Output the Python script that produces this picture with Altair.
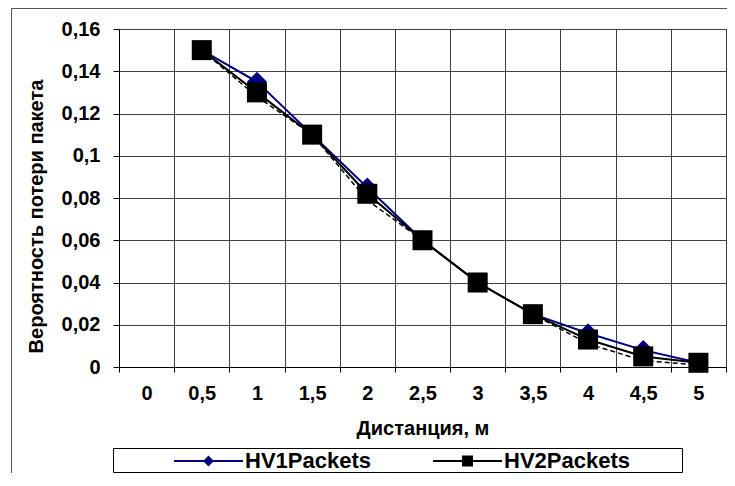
import altair as alt
import pandas as pd

categories = ["0", "0,5", "1", "1,5", "2", "2,5", "3", "3,5", "4", "4,5", "5"]
hv1_values = [None, 0.150, 0.135, 0.110, 0.085, 0.060, 0.040, 0.025, 0.016, 0.008, 0.002]
hv2_values = [None, 0.150, 0.130, 0.110, 0.082, 0.060, 0.040, 0.025, 0.013, 0.005, 0.002]
dashed_values = [None, 0.150, 0.128, 0.110, 0.079, 0.060, 0.040, 0.025, 0.011, 0.003, 0.001]
series_names = ["HV1Packets", "HV2Packets"]
series_colors = ["#000080", "#000000"]
y_ticks = [0, 0.02, 0.04, 0.06, 0.08, 0.1, 0.12, 0.14, 0.16]

rows = []
for name, vals in [("HV1Packets", hv1_values), ("HV2Packets", hv2_values), ("trend", dashed_values)]:
    for c, v in zip(categories, vals):
        if v is not None:
            rows.append({"dist": c, "value": v, "series": name})
df = pd.DataFrame(rows)

FONT = "Liberation Sans"

x_enc = alt.X(
    "dist:N",
    sort=categories,
    scale=alt.Scale(type="band", domain=categories, paddingInner=0, paddingOuter=0),
    axis=alt.Axis(
        title="Дистанция, м", tickBand="extent", grid=True, gridColor="#404040",
        labelAngle=0, labelFontSize=20, labelFontWeight="bold", labelColor="black",
        labelPadding=11, tickSize=5, tickColor="black", domainColor="black",
        titleFontSize=20, titleFontWeight="bold", titleColor="black", titleY=51,
    ),
)
y_enc = alt.Y(
    "value:Q",
    scale=alt.Scale(domain=[0, 0.16], nice=False, zero=True),
    axis=alt.Axis(
        title="Вероятность потери пакета", values=y_ticks,
        labelExpr="replace(format(datum.value, '.2~f'), '.', ',')",
        grid=True, gridColor="#404040", labelFontSize=20, labelFontWeight="bold",
        labelColor="black", labelPadding=13, tickSize=6, tickColor="black",
        domainColor="black", titleFontSize=20, titleFontWeight="bold",
        titleColor="black", titleX=-73, titleY=187,
    ),
)

base = alt.Chart(df).encode(x=x_enc, y=y_enc)

hv1_filter = "datum.series == 'HV1Packets'"
hv2_filter = "datum.series == 'HV2Packets'"

line1 = base.transform_filter(hv1_filter).mark_line(color="#000080", strokeWidth=2)
dashed = base.transform_filter("datum.series == 'trend'").mark_line(
    color="black", strokeWidth=1.5, strokeDash=[5, 3])
line2 = base.transform_filter(hv2_filter).mark_line(color="black", strokeWidth=2)
pts1 = base.transform_filter(hv1_filter).mark_point(
    shape="diamond", filled=True, size=400, color="#000080", opacity=1)
pts2 = base.transform_filter(hv2_filter).mark_point(
    shape="square", filled=True, size=400, color="black", opacity=1)

legend_paths = [
    "M-1,0L5.9,0M2.45,-0.4L2.85,0L2.45,0.4L2.05,0Z",
    "M-1,0L5.9,0M2,-0.45L2.9,-0.45L2.9,0.45L2,0.45Z",
]
leg = alt.Legend(
    title=None, orient="none", legendX=54, legendY=421, direction="horizontal",
    padding=0,
    labelFont=FONT, labelFontSize=22, labelFontWeight="bold", labelColor="black",
    labelOffset=50, labelLimit=400, columnPadding=58,
    symbolSize=400, symbolStrokeWidth=2, symbolOpacity=1, symbolOffset=0,
)
legend_layer = base.transform_filter("datum.series != 'trend'").mark_point(
    filled=True, opacity=0, strokeWidth=2
).encode(
    color=alt.Color("series:N", scale=alt.Scale(domain=series_names, range=series_colors), legend=leg),
    stroke=alt.Stroke("series:N", scale=alt.Scale(domain=series_names, range=series_colors), legend=leg),
    shape=alt.Shape("series:N", scale=alt.Scale(domain=series_names, range=legend_paths), legend=leg),
)

# chart-area border and legend box (decoration)
frame = alt.Chart(alt.Data(values=[{}])).mark_rect(
    filled=False, stroke="#555555", strokeWidth=1
).encode(x=alt.value(-107.5), x2=alt.value(720), y=alt.value(-20.5), y2=alt.value(480))
legend_box = alt.Chart(alt.Data(values=[{}])).mark_rect(
    filled=False, stroke="black", strokeWidth=1
).encode(x=alt.value(-5.5), x2=alt.value(563.5), y=alt.value(419.5), y2=alt.value(443.5))

chart = alt.layer(frame, legend_box, line1, dashed, line2, pts1, pts2, legend_layer).properties(
    width=607, height=338,
    autosize=alt.AutoSizeParams(type="none"),
    padding={"left": 111, "top": 21, "right": 1, "bottom": 106},
).configure(font=FONT).configure_view(stroke="black", strokeWidth=1)

chart.save("out.html", embed_options={"renderer": "svg", "actions": False})
